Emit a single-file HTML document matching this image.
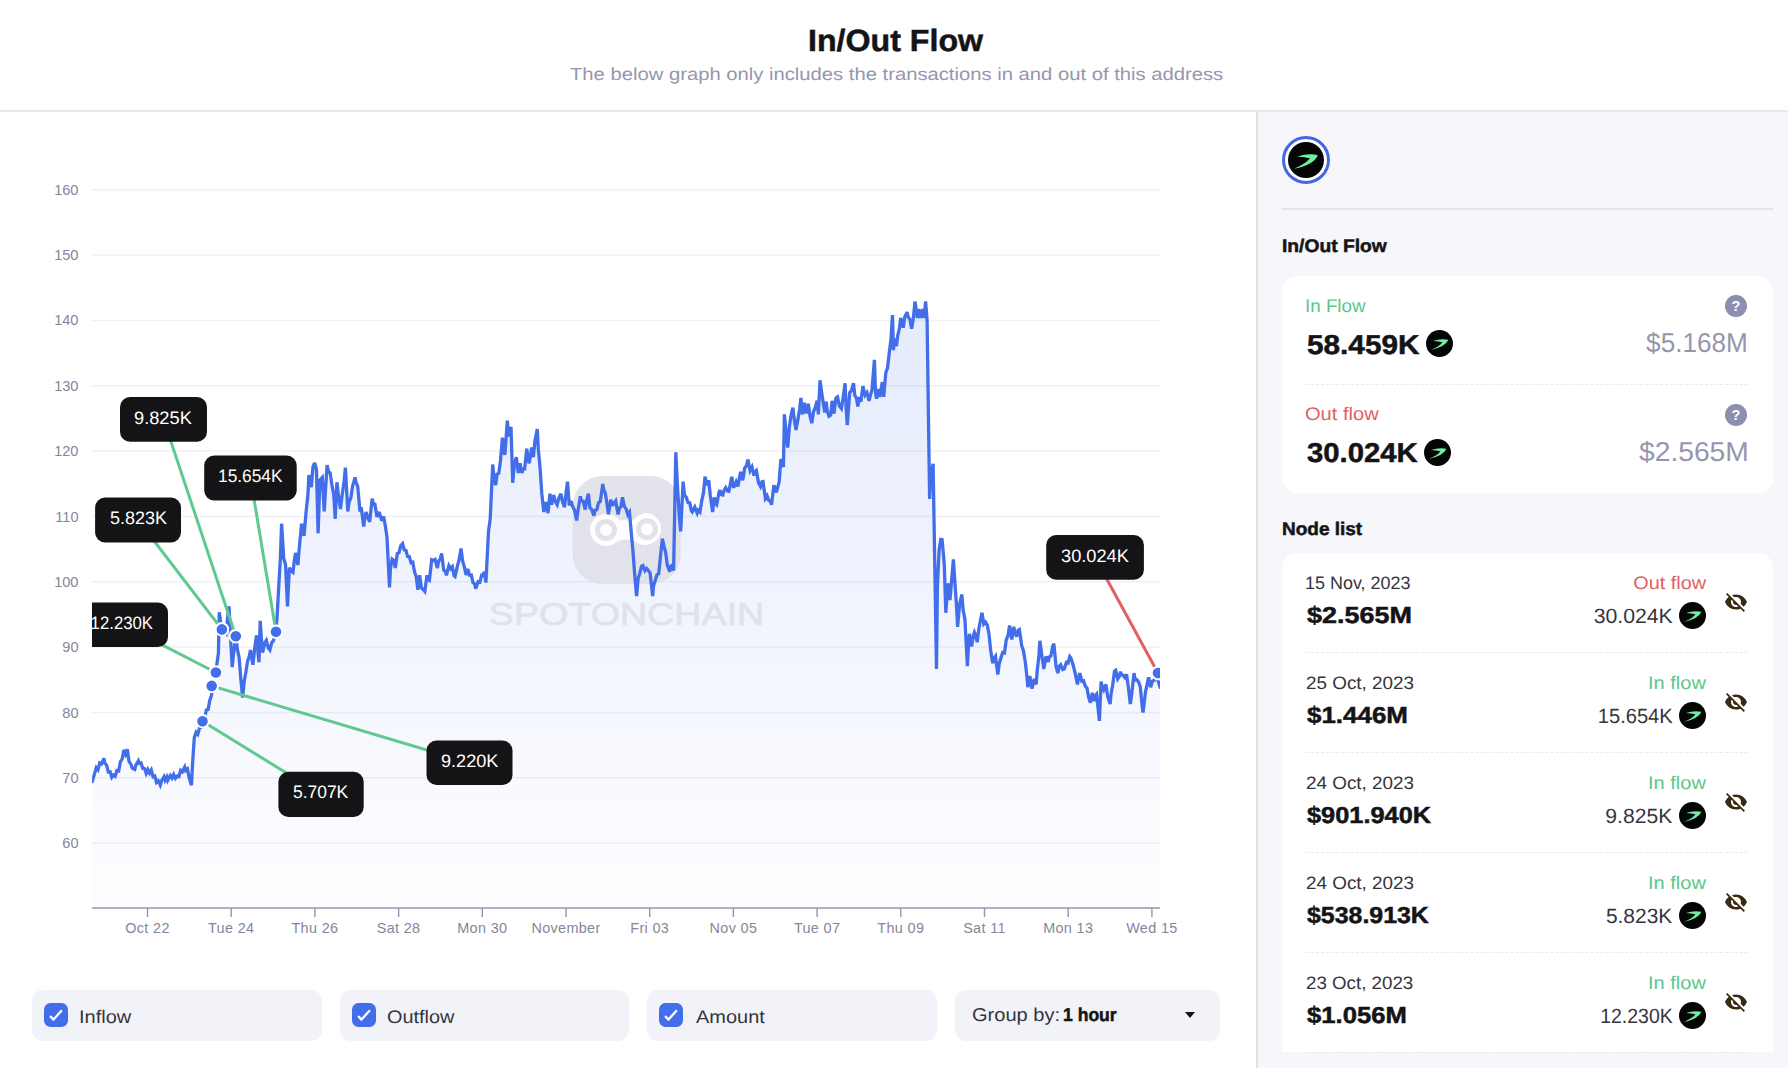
<!DOCTYPE html><html lang="en"><head><meta charset="utf-8"><title>In/Out Flow</title><style>
*{box-sizing:border-box}
html,body{margin:0;padding:0}
body{width:1788px;height:1068px;overflow:hidden;background:#fff;position:relative;font-family:"Liberation Sans",sans-serif}
.t{position:absolute;white-space:nowrap;line-height:1;display:block;text-rendering:geometricPrecision}
.chart{position:absolute;left:0;top:0}
.clipl{position:absolute;left:0;top:0;width:1788px;height:1068px;clip-path:inset(0 0 0 92px)}
.ax{font-family:"Liberation Sans",sans-serif;font-size:14.4px;letter-spacing:0.35px;fill:#85869c}
.ay{font-family:"Liberation Sans",sans-serif;font-size:14.6px;fill:#85869c}
.hdr{position:absolute;left:0;top:109.600px;width:1788px;height:2px;background:#e9e9ed}
.panel{position:absolute;left:1256px;top:111.500px;width:532px;height:957px;background:#f6f6fb;border-left:2px solid #dfdfe4}
.card{position:absolute;left:1281.500px;width:491.200px;background:#fff;border-radius:15px}
.dash{position:absolute;left:1306px;width:442px;height:0;border-top:1.500px dashed #e9e9ee}
.hr{position:absolute;left:1282px;top:207.800px;width:490.500px;height:2px;background:#e3e3e8}
.tok,.eye{position:absolute}
.help{position:absolute;width:21.800px;height:21.800px;border-radius:50%;background:#8d8eb0;color:#fff;font-weight:700;font-size:14.5px;line-height:22px;text-align:center}
.ring{position:absolute;left:1282px;top:136px;width:48px;height:48px;border-radius:50%;border:3px solid #4565e2;background:#fff}
.ctl{position:absolute;top:990.200px;height:50.500px;background:#f2f3f8;border-radius:11px}
.cb{position:absolute;width:24px;height:24px;border-radius:6.500px;background:#436eea}
.cb svg{display:block}
.caret{position:absolute;left:1184.500px;top:1012px;width:0;height:0;border-left:5.500px solid transparent;border-right:5.500px solid transparent;border-top:6px solid #141416}
</style></head><body>
<div class="hdr"></div>
<svg class="chart" width="1256" height="1068" viewBox="0 0 1256 1068">
<defs>
<linearGradient id="area" gradientUnits="userSpaceOnUse" x1="0" y1="298" x2="0" y2="908"><stop offset="0" stop-color="#436eea" stop-opacity="0.14"/><stop offset="1" stop-color="#436eea" stop-opacity="0.01"/></linearGradient>
<clipPath id="plot"><rect x="92" y="150" width="1068" height="760"/></clipPath></defs>
<line x1="92" x2="1160" y1="189.7" y2="189.7" stroke="#f0f0f5" stroke-width="1.5"/>
<line x1="92" x2="1160" y1="255.0" y2="255.0" stroke="#f0f0f5" stroke-width="1.5"/>
<line x1="92" x2="1160" y1="320.4" y2="320.4" stroke="#f0f0f5" stroke-width="1.5"/>
<line x1="92" x2="1160" y1="385.8" y2="385.8" stroke="#f0f0f5" stroke-width="1.5"/>
<line x1="92" x2="1160" y1="451.1" y2="451.1" stroke="#f0f0f5" stroke-width="1.5"/>
<line x1="92" x2="1160" y1="516.5" y2="516.5" stroke="#f0f0f5" stroke-width="1.5"/>
<line x1="92" x2="1160" y1="581.8" y2="581.8" stroke="#f0f0f5" stroke-width="1.5"/>
<line x1="92" x2="1160" y1="647.1" y2="647.1" stroke="#f0f0f5" stroke-width="1.5"/>
<line x1="92" x2="1160" y1="712.5" y2="712.5" stroke="#f0f0f5" stroke-width="1.5"/>
<line x1="92" x2="1160" y1="777.8" y2="777.8" stroke="#f0f0f5" stroke-width="1.5"/>
<line x1="92" x2="1160" y1="843.2" y2="843.2" stroke="#f0f0f5" stroke-width="1.5"/>
<g clip-path="url(#plot)"><path d="M92.2,781.6 L94.6,773.6 L96.3,767.7 L98.0,769.7 L99.7,763.0 L101.5,764.0 L103.9,758.4 L104.9,763.3 L106.6,765.0 L108.3,771.9 L110.1,771.7 L111.8,777.3 L113.5,775.0 L115.2,776.3 L116.9,770.5 L118.7,771.0 L120.4,761.6 L122.1,759.2 L123.8,750.0 L125.5,754.1 L127.3,749.2 L129.0,761.3 L130.7,763.9 L132.4,768.2 L134.8,769.4 L135.9,765.1 L138.4,760.9 L139.3,763.3 L141.0,762.9 L142.7,768.3 L144.5,768.5 L146.2,773.4 L147.9,769.5 L149.6,773.1 L151.3,770.1 L153.1,776.8 L154.8,776.1 L156.5,782.4 L158.2,780.8 L160.3,785.2 L161.7,780.5 L164.0,776.7 L165.1,780.2 L166.8,777.0 L167.7,780.3 L170.3,775.5 L172.0,778.1 L173.7,774.5 L175.4,778.4 L177.1,776.2 L178.9,776.7 L180.6,770.4 L182.3,771.8 L184.7,767.0 L185.7,770.6 L187.5,769.0 L189.2,777.8 L191.5,785.2 L192.6,763.0 L194.3,737.5 L196.1,732.2 L197.8,734.2 L199.5,728.1 L201.2,727.3 L202.9,718.5 L204.7,717.3 L206.4,709.9 L208.1,709.6 L209.8,700.3 L211.5,695.5 L213.3,679.3 L215.0,677.8 L216.7,665.4 L218.4,653.3 L219.3,612.3 L221.9,630.6 L223.6,629.5 L226.1,633.0 L227.0,623.3 L229.0,606.3 L230.5,636.2 L232.2,667.1 L233.9,651.1 L235.8,636.2 L237.3,648.9 L239.1,657.5 L240.8,678.3 L242.6,697.6 L244.2,681.7 L245.9,671.8 L247.7,660.6 L249.4,656.1 L250.4,650.1 L252.9,664.7 L254.5,649.7 L256.5,635.5 L258.0,652.8 L259.0,662.3 L260.2,620.9 L261.4,638.5 L262.6,652.5 L264.9,642.7 L266.3,640.4 L268.3,648.0 L269.9,650.1 L271.7,642.5 L273.5,640.6 L275.2,632.4 L276.9,619.6 L278.6,589.2 L280.3,559.6 L281.6,523.7 L283.8,559.1 L285.5,564.1 L287.5,606.4 L289.4,567.5 L290.7,570.7 L293.0,572.4 L294.1,562.3 L295.5,552.9 L297.9,565.0 L299.3,547.7 L301.6,523.7 L302.7,530.8 L304.0,535.8 L306.1,511.7 L307.9,495.3 L308.9,475.0 L311.3,487.1 L313.0,466.7 L314.7,462.8 L316.5,469.9 L318.1,533.4 L319.9,480.2 L322.3,477.4 L324.2,511.5 L325.1,496.1 L327.1,465.2 L328.5,471.6 L330.2,473.1 L331.9,485.0 L333.7,494.4 L335.2,518.8 L336.9,482.3 L338.8,498.8 L340.5,509.0 L342.3,493.9 L344.0,482.0 L345.4,467.7 L347.8,511.5 L349.1,502.1 L350.9,497.6 L352.6,486.1 L355.1,477.4 L356.0,482.4 L357.7,486.4 L360.0,511.5 L361.2,507.1 L363.7,526.6 L364.6,518.7 L366.1,512.0 L368.1,518.7 L369.7,521.7 L372.2,498.6 L373.2,503.5 L374.9,504.2 L377.0,516.9 L378.4,512.9 L379.5,513.2 L381.8,520.8 L383.5,516.3 L385.3,525.6 L387.0,537.3 L389.5,587.5 L390.4,568.9 L392.1,559.2 L393.9,560.7 L395.3,568.0 L397.3,553.6 L399.0,552.7 L400.7,545.9 L402.6,543.7 L404.2,549.9 L405.9,550.4 L407.6,556.5 L409.3,556.6 L411.1,562.9 L412.8,562.3 L414.5,571.8 L416.2,576.5 L417.9,589.9 L419.7,575.3 L421.4,587.8 L423.1,589.5 L424.8,591.4 L427.0,575.3 L428.3,579.4 L429.4,580.2 L431.7,559.8 L433.4,560.4 L435.1,559.5 L437.4,568.0 L438.6,561.3 L440.3,559.1 L441.6,553.4 L443.7,569.9 L445.5,571.7 L446.4,575.3 L448.9,565.7 L450.6,568.7 L452.3,566.7 L454.1,575.8 L455.0,576.5 L457.5,565.6 L459.2,559.5 L461.0,548.5 L462.7,561.1 L464.4,567.1 L466.1,575.0 L467.8,568.9 L469.5,575.1 L471.3,575.0 L473.0,582.6 L474.7,583.9 L475.7,588.7 L478.1,581.7 L479.9,582.1 L481.6,575.2 L483.3,575.7 L484.2,571.7 L485.9,582.6 L488.5,531.3 L490.2,519.1 L492.7,464.5 L493.6,473.3 L495.6,485.2 L497.1,474.2 L498.8,473.3 L500.5,460.6 L502.4,437.7 L503.9,450.5 L504.9,454.8 L507.3,420.7 L509.0,436.5 L511.0,426.8 L512.7,482.8 L514.3,465.2 L516.3,457.2 L518.3,473.0 L520.0,463.3 L521.9,473.0 L522.9,469.1 L524.6,469.0 L526.8,448.7 L528.0,458.4 L529.2,463.3 L531.7,447.5 L533.4,457.2 L534.9,441.1 L537.3,429.2 L538.3,449.2 L540.1,468.3 L541.8,493.7 L543.8,512.0 L545.2,504.5 L546.3,502.3 L548.0,513.2 L549.9,493.7 L551.6,504.7 L553.6,495.0 L555.5,501.9 L557.2,504.7 L559.0,497.5 L560.9,493.7 L562.4,501.3 L564.5,507.1 L565.9,494.2 L567.5,481.6 L569.3,505.5 L571.0,501.0 L572.7,506.6 L574.5,510.1 L576.7,520.5 L577.9,511.0 L580.4,496.2 L581.3,500.7 L583.1,501.2 L585.2,509.6 L586.5,501.4 L588.4,493.7 L589.9,508.0 L591.7,509.4 L593.8,515.7 L595.1,510.5 L596.8,509.7 L598.5,502.9 L600.3,501.3 L602.8,484.0 L603.7,489.5 L605.4,493.4 L607.1,504.5 L608.4,514.4 L610.8,499.8 L612.3,504.8 L613.2,504.7 L615.7,501.0 L618.1,514.4 L619.2,508.8 L620.9,506.7 L622.5,497.4 L624.3,506.4 L626.1,508.9 L627.8,514.7 L629.5,512.2 L631.2,532.1 L632.9,550.5 L634.7,574.6 L636.6,596.0 L638.1,578.5 L639.8,573.4 L641.5,566.4 L642.9,565.6 L645.0,570.7 L646.7,568.5 L648.4,570.4 L650.1,573.0 L652.7,596.0 L653.6,585.7 L655.3,580.3 L657.0,574.8 L658.7,573.6 L660.5,556.2 L662.4,538.8 L663.9,545.9 L665.6,552.0 L667.3,565.0 L669.7,571.7 L670.8,566.2 L671.7,565.6 L673.6,570.4 L675.8,452.3 L677.7,490.1 L679.4,517.8 L680.7,531.5 L683.1,481.6 L684.5,495.1 L686.3,497.2 L688.0,502.5 L689.7,502.8 L691.4,510.8 L692.3,512.0 L694.8,507.1 L697.2,513.2 L698.3,510.3 L700.0,512.0 L701.7,501.0 L703.5,492.8 L705.0,476.7 L707.0,485.2 L708.7,480.3 L710.3,495.2 L712.6,512.0 L714.3,497.4 L715.5,503.4 L716.7,504.7 L718.9,492.7 L719.9,490.1 L721.3,494.7 L722.8,495.0 L724.1,490.4 L725.7,487.7 L727.5,491.0 L728.9,491.3 L731.8,476.7 L732.7,484.2 L733.7,487.7 L736.1,481.7 L737.9,486.5 L739.6,476.7 L740.6,471.8 L742.8,480.3 L744.7,468.0 L746.5,465.7 L747.9,459.7 L750.1,470.6 L752.0,467.0 L754.0,475.5 L755.1,472.1 L756.4,470.6 L758.5,482.6 L760.5,486.4 L761.9,481.9 L763.0,481.6 L765.4,498.5 L767.1,495.8 L768.8,500.5 L770.5,501.3 L771.5,504.7 L773.9,485.2 L776.4,492.5 L777.4,488.1 L779.1,482.4 L780.9,459.1 L783.4,467.0 L784.4,414.4 L786.0,431.4 L787.7,447.5 L789.5,425.7 L791.2,414.8 L792.9,407.6 L794.6,421.8 L796.0,430.0 L798.1,418.4 L799.8,408.2 L800.9,397.9 L802.5,414.4 L804.4,402.7 L806.4,413.5 L808.3,403.7 L810.1,416.5 L811.8,423.2 L813.5,411.6 L815.3,407.5 L817.1,400.8 L818.4,414.4 L820.0,380.3 L822.1,395.5 L824.7,412.5 L826.2,401.8 L827.3,411.2 L829.0,416.1 L830.7,415.0 L832.1,400.8 L834.0,413.5 L835.9,398.1 L837.5,396.9 L839.3,405.9 L841.4,408.6 L842.8,399.9 L845.1,383.3 L846.2,408.8 L847.3,425.1 L849.7,392.7 L851.4,390.6 L853.5,383.3 L854.8,395.2 L856.5,398.3 L857.8,406.6 L859.4,396.9 L860.9,401.8 L862.9,386.2 L865.1,395.1 L866.9,392.6 L869.1,400.8 L870.3,395.7 L872.0,389.7 L874.4,359.9 L875.5,392.3 L876.5,398.8 L878.4,389.1 L879.8,396.9 L882.3,382.1 L883.7,396.9 L885.8,372.6 L887.5,368.1 L889.2,353.5 L890.9,340.0 L892.5,315.1 L893.4,350.1 L894.8,338.4 L896.4,346.2 L897.8,335.2 L899.5,327.8 L900.7,318.0 L903.2,327.7 L904.7,317.3 L907.1,312.1 L908.1,316.8 L909.9,319.3 L911.6,328.6 L913.3,318.7 L915.0,301.6 L917.4,318.0 L918.8,309.2 L920.7,318.0 L922.7,309.2 L924.2,318.0 L925.6,301.4 L927.1,320.3 L929.6,499.0 L930.5,482.1 L932.2,468.6 L933.1,463.9 L936.5,668.9 L937.4,585.6 L939.1,550.2 L940.8,539.5 L942.1,539.7 L944.3,564.7 L945.8,612.8 L947.8,583.3 L950.0,600.1 L951.1,586.6 L953.4,559.4 L954.6,578.2 L956.3,602.2 L957.6,626.8 L959.7,603.7 L961.8,594.5 L963.2,610.3 L964.9,618.9 L967.4,666.1 L968.3,648.8 L969.4,633.8 L971.6,646.5 L973.5,635.1 L974.4,632.4 L975.8,636.1 L977.2,642.2 L978.7,629.7 L980.4,620.9 L982.0,612.8 L983.8,624.0 L985.5,622.0 L987.3,625.1 L989.0,634.2 L990.7,650.4 L992.7,663.3 L994.1,658.3 L995.5,656.3 L997.8,674.6 L999.3,663.4 L1001.0,657.8 L1002.7,652.4 L1004.5,652.9 L1006.2,640.0 L1007.9,635.9 L1009.6,625.4 L1011.8,639.4 L1013.8,626.8 L1014.8,632.0 L1016.6,636.6 L1018.2,630.2 L1019.4,629.6 L1021.7,645.7 L1023.4,650.6 L1025.1,660.6 L1026.8,675.3 L1027.8,687.2 L1029.8,676.0 L1032.0,688.6 L1034.3,678.8 L1036.2,684.4 L1037.1,671.8 L1038.9,655.7 L1039.9,640.8 L1042.3,658.6 L1043.8,668.9 L1046.1,656.3 L1048.3,661.9 L1049.2,657.0 L1050.9,656.0 L1052.6,646.6 L1053.9,643.7 L1056.1,667.0 L1057.9,673.1 L1059.5,666.1 L1060.7,664.7 L1062.9,669.6 L1064.3,668.9 L1066.4,662.3 L1068.1,663.0 L1069.8,656.5 L1070.8,657.7 L1073.3,665.7 L1075.0,672.5 L1077.5,684.4 L1078.4,678.4 L1079.8,673.1 L1081.9,681.2 L1083.6,680.8 L1085.3,686.2 L1087.0,688.0 L1088.7,697.6 L1090.4,702.6 L1092.4,692.8 L1094.4,701.2 L1095.6,695.5 L1096.6,694.2 L1099.4,720.9 L1101.1,681.6 L1102.5,687.8 L1103.7,690.0 L1105.9,684.4 L1107.7,696.4 L1110.1,704.0 L1111.1,693.7 L1112.8,684.2 L1114.5,671.2 L1115.7,670.3 L1117.7,678.8 L1119.1,676.7 L1120.5,671.7 L1121.4,674.9 L1123.1,675.2 L1124.9,677.5 L1126.6,674.4 L1128.3,686.8 L1130.3,704.0 L1131.7,694.4 L1134.0,673.1 L1135.2,679.9 L1136.9,679.8 L1138.6,682.0 L1140.3,686.8 L1142.1,705.5 L1143.0,712.5 L1145.5,691.7 L1147.2,683.8 L1148.6,677.4 L1150.6,687.2 L1152.4,681.2 L1154.1,680.4 L1155.8,672.6 L1157.5,678.9 L1160.0,687.2 L1160,908 L92,908 Z" fill="url(#area)"/>
<g id="wm" opacity="0.96">
<rect x="572.7" y="476" width="108" height="108" rx="30" fill="#e1e2ea"/>
<path d="M606 514a16 16 0 1 0 9 29.2c3.5-2.4 7-3.6 11.500-3.6s8 1.200 11.500 3.600A16 16 0 1 0 647 513a16 16 0 0 0 -13.500 7.500 h-14A16 16 0 0 0 606 514z" fill="#ffffff"/>
<circle cx="606" cy="530" r="8.5" fill="none" stroke="#e1e2ea" stroke-width="5"/>
<circle cx="647" cy="529.2" r="8.5" fill="none" stroke="#e1e2ea" stroke-width="5"/>
<text x="488.8" y="625.2" font-family="Liberation Sans, sans-serif" font-size="30.7" fill="#e0e1e9" stroke="#e0e1e9" stroke-width="0.6" textLength="275.5" lengthAdjust="spacingAndGlyphs">SPOTONCHAIN</text>
</g>
<path d="M92.2,781.6 L94.6,773.6 L96.3,767.7 L98.0,769.7 L99.7,763.0 L101.5,764.0 L103.9,758.4 L104.9,763.3 L106.6,765.0 L108.3,771.9 L110.1,771.7 L111.8,777.3 L113.5,775.0 L115.2,776.3 L116.9,770.5 L118.7,771.0 L120.4,761.6 L122.1,759.2 L123.8,750.0 L125.5,754.1 L127.3,749.2 L129.0,761.3 L130.7,763.9 L132.4,768.2 L134.8,769.4 L135.9,765.1 L138.4,760.9 L139.3,763.3 L141.0,762.9 L142.7,768.3 L144.5,768.5 L146.2,773.4 L147.9,769.5 L149.6,773.1 L151.3,770.1 L153.1,776.8 L154.8,776.1 L156.5,782.4 L158.2,780.8 L160.3,785.2 L161.7,780.5 L164.0,776.7 L165.1,780.2 L166.8,777.0 L167.7,780.3 L170.3,775.5 L172.0,778.1 L173.7,774.5 L175.4,778.4 L177.1,776.2 L178.9,776.7 L180.6,770.4 L182.3,771.8 L184.7,767.0 L185.7,770.6 L187.5,769.0 L189.2,777.8 L191.5,785.2 L192.6,763.0 L194.3,737.5 L196.1,732.2 L197.8,734.2 L199.5,728.1 L201.2,727.3 L202.9,718.5 L204.7,717.3 L206.4,709.9 L208.1,709.6 L209.8,700.3 L211.5,695.5 L213.3,679.3 L215.0,677.8 L216.7,665.4 L218.4,653.3 L219.3,612.3 L221.9,630.6 L223.6,629.5 L226.1,633.0 L227.0,623.3 L229.0,606.3 L230.5,636.2 L232.2,667.1 L233.9,651.1 L235.8,636.2 L237.3,648.9 L239.1,657.5 L240.8,678.3 L242.6,697.6 L244.2,681.7 L245.9,671.8 L247.7,660.6 L249.4,656.1 L250.4,650.1 L252.9,664.7 L254.5,649.7 L256.5,635.5 L258.0,652.8 L259.0,662.3 L260.2,620.9 L261.4,638.5 L262.6,652.5 L264.9,642.7 L266.3,640.4 L268.3,648.0 L269.9,650.1 L271.7,642.5 L273.5,640.6 L275.2,632.4 L276.9,619.6 L278.6,589.2 L280.3,559.6 L281.6,523.7 L283.8,559.1 L285.5,564.1 L287.5,606.4 L289.4,567.5 L290.7,570.7 L293.0,572.4 L294.1,562.3 L295.5,552.9 L297.9,565.0 L299.3,547.7 L301.6,523.7 L302.7,530.8 L304.0,535.8 L306.1,511.7 L307.9,495.3 L308.9,475.0 L311.3,487.1 L313.0,466.7 L314.7,462.8 L316.5,469.9 L318.1,533.4 L319.9,480.2 L322.3,477.4 L324.2,511.5 L325.1,496.1 L327.1,465.2 L328.5,471.6 L330.2,473.1 L331.9,485.0 L333.7,494.4 L335.2,518.8 L336.9,482.3 L338.8,498.8 L340.5,509.0 L342.3,493.9 L344.0,482.0 L345.4,467.7 L347.8,511.5 L349.1,502.1 L350.9,497.6 L352.6,486.1 L355.1,477.4 L356.0,482.4 L357.7,486.4 L360.0,511.5 L361.2,507.1 L363.7,526.6 L364.6,518.7 L366.1,512.0 L368.1,518.7 L369.7,521.7 L372.2,498.6 L373.2,503.5 L374.9,504.2 L377.0,516.9 L378.4,512.9 L379.5,513.2 L381.8,520.8 L383.5,516.3 L385.3,525.6 L387.0,537.3 L389.5,587.5 L390.4,568.9 L392.1,559.2 L393.9,560.7 L395.3,568.0 L397.3,553.6 L399.0,552.7 L400.7,545.9 L402.6,543.7 L404.2,549.9 L405.9,550.4 L407.6,556.5 L409.3,556.6 L411.1,562.9 L412.8,562.3 L414.5,571.8 L416.2,576.5 L417.9,589.9 L419.7,575.3 L421.4,587.8 L423.1,589.5 L424.8,591.4 L427.0,575.3 L428.3,579.4 L429.4,580.2 L431.7,559.8 L433.4,560.4 L435.1,559.5 L437.4,568.0 L438.6,561.3 L440.3,559.1 L441.6,553.4 L443.7,569.9 L445.5,571.7 L446.4,575.3 L448.9,565.7 L450.6,568.7 L452.3,566.7 L454.1,575.8 L455.0,576.5 L457.5,565.6 L459.2,559.5 L461.0,548.5 L462.7,561.1 L464.4,567.1 L466.1,575.0 L467.8,568.9 L469.5,575.1 L471.3,575.0 L473.0,582.6 L474.7,583.9 L475.7,588.7 L478.1,581.7 L479.9,582.1 L481.6,575.2 L483.3,575.7 L484.2,571.7 L485.9,582.6 L488.5,531.3 L490.2,519.1 L492.7,464.5 L493.6,473.3 L495.6,485.2 L497.1,474.2 L498.8,473.3 L500.5,460.6 L502.4,437.7 L503.9,450.5 L504.9,454.8 L507.3,420.7 L509.0,436.5 L511.0,426.8 L512.7,482.8 L514.3,465.2 L516.3,457.2 L518.3,473.0 L520.0,463.3 L521.9,473.0 L522.9,469.1 L524.6,469.0 L526.8,448.7 L528.0,458.4 L529.2,463.3 L531.7,447.5 L533.4,457.2 L534.9,441.1 L537.3,429.2 L538.3,449.2 L540.1,468.3 L541.8,493.7 L543.8,512.0 L545.2,504.5 L546.3,502.3 L548.0,513.2 L549.9,493.7 L551.6,504.7 L553.6,495.0 L555.5,501.9 L557.2,504.7 L559.0,497.5 L560.9,493.7 L562.4,501.3 L564.5,507.1 L565.9,494.2 L567.5,481.6 L569.3,505.5 L571.0,501.0 L572.7,506.6 L574.5,510.1 L576.7,520.5 L577.9,511.0 L580.4,496.2 L581.3,500.7 L583.1,501.2 L585.2,509.6 L586.5,501.4 L588.4,493.7 L589.9,508.0 L591.7,509.4 L593.8,515.7 L595.1,510.5 L596.8,509.7 L598.5,502.9 L600.3,501.3 L602.8,484.0 L603.7,489.5 L605.4,493.4 L607.1,504.5 L608.4,514.4 L610.8,499.8 L612.3,504.8 L613.2,504.7 L615.7,501.0 L618.1,514.4 L619.2,508.8 L620.9,506.7 L622.5,497.4 L624.3,506.4 L626.1,508.9 L627.8,514.7 L629.5,512.2 L631.2,532.1 L632.9,550.5 L634.7,574.6 L636.6,596.0 L638.1,578.5 L639.8,573.4 L641.5,566.4 L642.9,565.6 L645.0,570.7 L646.7,568.5 L648.4,570.4 L650.1,573.0 L652.7,596.0 L653.6,585.7 L655.3,580.3 L657.0,574.8 L658.7,573.6 L660.5,556.2 L662.4,538.8 L663.9,545.9 L665.6,552.0 L667.3,565.0 L669.7,571.7 L670.8,566.2 L671.7,565.6 L673.6,570.4 L675.8,452.3 L677.7,490.1 L679.4,517.8 L680.7,531.5 L683.1,481.6 L684.5,495.1 L686.3,497.2 L688.0,502.5 L689.7,502.8 L691.4,510.8 L692.3,512.0 L694.8,507.1 L697.2,513.2 L698.3,510.3 L700.0,512.0 L701.7,501.0 L703.5,492.8 L705.0,476.7 L707.0,485.2 L708.7,480.3 L710.3,495.2 L712.6,512.0 L714.3,497.4 L715.5,503.4 L716.7,504.7 L718.9,492.7 L719.9,490.1 L721.3,494.7 L722.8,495.0 L724.1,490.4 L725.7,487.7 L727.5,491.0 L728.9,491.3 L731.8,476.7 L732.7,484.2 L733.7,487.7 L736.1,481.7 L737.9,486.5 L739.6,476.7 L740.6,471.8 L742.8,480.3 L744.7,468.0 L746.5,465.7 L747.9,459.7 L750.1,470.6 L752.0,467.0 L754.0,475.5 L755.1,472.1 L756.4,470.6 L758.5,482.6 L760.5,486.4 L761.9,481.9 L763.0,481.6 L765.4,498.5 L767.1,495.8 L768.8,500.5 L770.5,501.3 L771.5,504.7 L773.9,485.2 L776.4,492.5 L777.4,488.1 L779.1,482.4 L780.9,459.1 L783.4,467.0 L784.4,414.4 L786.0,431.4 L787.7,447.5 L789.5,425.7 L791.2,414.8 L792.9,407.6 L794.6,421.8 L796.0,430.0 L798.1,418.4 L799.8,408.2 L800.9,397.9 L802.5,414.4 L804.4,402.7 L806.4,413.5 L808.3,403.7 L810.1,416.5 L811.8,423.2 L813.5,411.6 L815.3,407.5 L817.1,400.8 L818.4,414.4 L820.0,380.3 L822.1,395.5 L824.7,412.5 L826.2,401.8 L827.3,411.2 L829.0,416.1 L830.7,415.0 L832.1,400.8 L834.0,413.5 L835.9,398.1 L837.5,396.9 L839.3,405.9 L841.4,408.6 L842.8,399.9 L845.1,383.3 L846.2,408.8 L847.3,425.1 L849.7,392.7 L851.4,390.6 L853.5,383.3 L854.8,395.2 L856.5,398.3 L857.8,406.6 L859.4,396.9 L860.9,401.8 L862.9,386.2 L865.1,395.1 L866.9,392.6 L869.1,400.8 L870.3,395.7 L872.0,389.7 L874.4,359.9 L875.5,392.3 L876.5,398.8 L878.4,389.1 L879.8,396.9 L882.3,382.1 L883.7,396.9 L885.8,372.6 L887.5,368.1 L889.2,353.5 L890.9,340.0 L892.5,315.1 L893.4,350.1 L894.8,338.4 L896.4,346.2 L897.8,335.2 L899.5,327.8 L900.7,318.0 L903.2,327.7 L904.7,317.3 L907.1,312.1 L908.1,316.8 L909.9,319.3 L911.6,328.6 L913.3,318.7 L915.0,301.6 L917.4,318.0 L918.8,309.2 L920.7,318.0 L922.7,309.2 L924.2,318.0 L925.6,301.4 L927.1,320.3 L929.6,499.0 L930.5,482.1 L932.2,468.6 L933.1,463.9 L936.5,668.9 L937.4,585.6 L939.1,550.2 L940.8,539.5 L942.1,539.7 L944.3,564.7 L945.8,612.8 L947.8,583.3 L950.0,600.1 L951.1,586.6 L953.4,559.4 L954.6,578.2 L956.3,602.2 L957.6,626.8 L959.7,603.7 L961.8,594.5 L963.2,610.3 L964.9,618.9 L967.4,666.1 L968.3,648.8 L969.4,633.8 L971.6,646.5 L973.5,635.1 L974.4,632.4 L975.8,636.1 L977.2,642.2 L978.7,629.7 L980.4,620.9 L982.0,612.8 L983.8,624.0 L985.5,622.0 L987.3,625.1 L989.0,634.2 L990.7,650.4 L992.7,663.3 L994.1,658.3 L995.5,656.3 L997.8,674.6 L999.3,663.4 L1001.0,657.8 L1002.7,652.4 L1004.5,652.9 L1006.2,640.0 L1007.9,635.9 L1009.6,625.4 L1011.8,639.4 L1013.8,626.8 L1014.8,632.0 L1016.6,636.6 L1018.2,630.2 L1019.4,629.6 L1021.7,645.7 L1023.4,650.6 L1025.1,660.6 L1026.8,675.3 L1027.8,687.2 L1029.8,676.0 L1032.0,688.6 L1034.3,678.8 L1036.2,684.4 L1037.1,671.8 L1038.9,655.7 L1039.9,640.8 L1042.3,658.6 L1043.8,668.9 L1046.1,656.3 L1048.3,661.9 L1049.2,657.0 L1050.9,656.0 L1052.6,646.6 L1053.9,643.7 L1056.1,667.0 L1057.9,673.1 L1059.5,666.1 L1060.7,664.7 L1062.9,669.6 L1064.3,668.9 L1066.4,662.3 L1068.1,663.0 L1069.8,656.5 L1070.8,657.7 L1073.3,665.7 L1075.0,672.5 L1077.5,684.4 L1078.4,678.4 L1079.8,673.1 L1081.9,681.2 L1083.6,680.8 L1085.3,686.2 L1087.0,688.0 L1088.7,697.6 L1090.4,702.6 L1092.4,692.8 L1094.4,701.2 L1095.6,695.5 L1096.6,694.2 L1099.4,720.9 L1101.1,681.6 L1102.5,687.8 L1103.7,690.0 L1105.9,684.4 L1107.7,696.4 L1110.1,704.0 L1111.1,693.7 L1112.8,684.2 L1114.5,671.2 L1115.7,670.3 L1117.7,678.8 L1119.1,676.7 L1120.5,671.7 L1121.4,674.9 L1123.1,675.2 L1124.9,677.5 L1126.6,674.4 L1128.3,686.8 L1130.3,704.0 L1131.7,694.4 L1134.0,673.1 L1135.2,679.9 L1136.9,679.8 L1138.6,682.0 L1140.3,686.8 L1142.1,705.5 L1143.0,712.5 L1145.5,691.7 L1147.2,683.8 L1148.6,677.4 L1150.6,687.2 L1152.4,681.2 L1154.1,680.4 L1155.8,672.6 L1157.5,678.9 L1160.0,687.2" fill="none" stroke="#436eea" stroke-width="3.3" stroke-linejoin="miter" stroke-miterlimit="3" stroke-linecap="round"/>
<line x1="163.5" y1="419.2" x2="235.8" y2="636.2" stroke="#5fc98f" stroke-width="3"/>
<line x1="250.5" y1="478" x2="276" y2="631.8" stroke="#5fc98f" stroke-width="3"/>
<line x1="138" y1="520" x2="221.9" y2="629.4" stroke="#5fc98f" stroke-width="3"/>
<line x1="122.5" y1="624.7" x2="215.9" y2="672.5" stroke="#5fc98f" stroke-width="3"/>
<line x1="469.5" y1="762.8" x2="211.7" y2="685.9" stroke="#5fc98f" stroke-width="3"/>
<line x1="321" y1="794.3" x2="202.5" y2="721.2" stroke="#5fc98f" stroke-width="3"/>
<line x1="1094.9" y1="557.3" x2="1158" y2="673" stroke="#e25f62" stroke-width="3"/>
<circle cx="202.5" cy="721.2" r="6.3" fill="#436eea" stroke="#ffffff" stroke-width="2"/>
<circle cx="211.7" cy="685.9" r="6.3" fill="#436eea" stroke="#ffffff" stroke-width="2"/>
<circle cx="215.9" cy="672.5" r="6.3" fill="#436eea" stroke="#ffffff" stroke-width="2"/>
<circle cx="221.9" cy="629.4" r="6.3" fill="#436eea" stroke="#ffffff" stroke-width="2"/>
<circle cx="235.8" cy="636.2" r="6.3" fill="#436eea" stroke="#ffffff" stroke-width="2"/>
<circle cx="276" cy="631.8" r="6.3" fill="#436eea" stroke="#ffffff" stroke-width="2"/>
<circle cx="1158" cy="673" r="6.3" fill="#436eea" stroke="#ffffff" stroke-width="2"/>
<rect x="120" y="397.1" width="87.0" height="44.7" rx="10" fill="#141416"/>
<rect x="204.2" y="455.5" width="92.5" height="45.0" rx="10" fill="#141416"/>
<rect x="95.1" y="497.6" width="85.9" height="44.8" rx="10" fill="#141416"/>
<rect x="77" y="602.5" width="91.0" height="44.5" rx="10" fill="#141416"/>
<rect x="426.5" y="740.5" width="86.0" height="44.5" rx="10" fill="#141416"/>
<rect x="278.4" y="771.8" width="85.3" height="45.1" rx="10" fill="#141416"/>
<rect x="1046.2" y="535" width="97.7" height="44.7" rx="10" fill="#141416"/>
</g>
<line x1="92" x2="1160" y1="908" y2="908" stroke="#9596ac" stroke-width="1.4"/>
<line x1="147.5" x2="147.5" y1="908" y2="917" stroke="#9596ac" stroke-width="1.4"/>
<text x="147.5" y="932.6" text-anchor="middle" class="ax">Oct 22</text>
<line x1="231.2" x2="231.2" y1="908" y2="917" stroke="#9596ac" stroke-width="1.4"/>
<text x="231.2" y="932.6" text-anchor="middle" class="ax">Tue 24</text>
<line x1="314.9" x2="314.9" y1="908" y2="917" stroke="#9596ac" stroke-width="1.4"/>
<text x="314.9" y="932.6" text-anchor="middle" class="ax">Thu 26</text>
<line x1="398.6" x2="398.6" y1="908" y2="917" stroke="#9596ac" stroke-width="1.4"/>
<text x="398.6" y="932.6" text-anchor="middle" class="ax">Sat 28</text>
<line x1="482.3" x2="482.3" y1="908" y2="917" stroke="#9596ac" stroke-width="1.4"/>
<text x="482.3" y="932.6" text-anchor="middle" class="ax">Mon 30</text>
<line x1="566" x2="566" y1="908" y2="917" stroke="#9596ac" stroke-width="1.4"/>
<text x="566" y="932.6" text-anchor="middle" class="ax">November</text>
<line x1="649.7" x2="649.7" y1="908" y2="917" stroke="#9596ac" stroke-width="1.4"/>
<text x="649.7" y="932.6" text-anchor="middle" class="ax">Fri 03</text>
<line x1="733.4" x2="733.4" y1="908" y2="917" stroke="#9596ac" stroke-width="1.4"/>
<text x="733.4" y="932.6" text-anchor="middle" class="ax">Nov 05</text>
<line x1="817.1" x2="817.1" y1="908" y2="917" stroke="#9596ac" stroke-width="1.4"/>
<text x="817.1" y="932.6" text-anchor="middle" class="ax">Tue 07</text>
<line x1="900.8" x2="900.8" y1="908" y2="917" stroke="#9596ac" stroke-width="1.4"/>
<text x="900.8" y="932.6" text-anchor="middle" class="ax">Thu 09</text>
<line x1="984.5" x2="984.5" y1="908" y2="917" stroke="#9596ac" stroke-width="1.4"/>
<text x="984.5" y="932.6" text-anchor="middle" class="ax">Sat 11</text>
<line x1="1068.2" x2="1068.2" y1="908" y2="917" stroke="#9596ac" stroke-width="1.4"/>
<text x="1068.2" y="932.6" text-anchor="middle" class="ax">Mon 13</text>
<line x1="1151.9" x2="1151.9" y1="908" y2="917" stroke="#9596ac" stroke-width="1.4"/>
<text x="1151.9" y="932.6" text-anchor="middle" class="ax">Wed 15</text>
<text x="78.5" y="194.7" text-anchor="end" class="ay">160</text>
<text x="78.5" y="260.0" text-anchor="end" class="ay">150</text>
<text x="78.5" y="325.4" text-anchor="end" class="ay">140</text>
<text x="78.5" y="390.8" text-anchor="end" class="ay">130</text>
<text x="78.5" y="456.1" text-anchor="end" class="ay">120</text>
<text x="78.5" y="521.5" text-anchor="end" class="ay">110</text>
<text x="78.5" y="586.8" text-anchor="end" class="ay">100</text>
<text x="78.5" y="652.1" text-anchor="end" class="ay">90</text>
<text x="78.5" y="717.5" text-anchor="end" class="ay">80</text>
<text x="78.5" y="782.8" text-anchor="end" class="ay">70</text>
<text x="78.5" y="848.2" text-anchor="end" class="ay">60</text>
</svg>
<div class="ctl" style="left:32.2px;width:289.6px"></div>
<div class="ctl" style="left:340px;width:288.8px"></div>
<div class="ctl" style="left:647.2px;width:289.5px"></div>
<div class="ctl" style="left:955px;width:264.8px"></div>
<div class="cb" style="left:44px;top:1002.8px"><svg width="24" height="24" viewBox="0 0 24 24"><path d="M6.800 13.700l2.700 2.900 7.700-8.700" fill="none" stroke="#fff" stroke-width="2.300" stroke-linecap="round" stroke-linejoin="round"/></svg></div>
<div class="cb" style="left:351.8px;top:1002.8px"><svg width="24" height="24" viewBox="0 0 24 24"><path d="M6.800 13.700l2.700 2.900 7.700-8.700" fill="none" stroke="#fff" stroke-width="2.300" stroke-linecap="round" stroke-linejoin="round"/></svg></div>
<div class="cb" style="left:659px;top:1002.8px"><svg width="24" height="24" viewBox="0 0 24 24"><path d="M6.800 13.700l2.700 2.900 7.700-8.700" fill="none" stroke="#fff" stroke-width="2.300" stroke-linecap="round" stroke-linejoin="round"/></svg></div>
<div class="caret"></div>
<div class="panel"></div>
<div class="ring"></div>
<svg class="tok" style="left:1288.0px;top:142.0px;width:36px;height:36px" viewBox="-1 -1 2 2"><circle r="1" fill="#050505"/><path d="M-0.48,-0.19 Q0.15,-0.40 0.66,-0.27 Q0.46,0.24 -0.66,0.49 Q0.02,0.18 0.22,-0.10 Q-0.05,-0.15 -0.48,-0.19Z" fill="#6ff0a5"/></svg>
<div class="hr"></div>
<div class="card" style="top:276px;height:217px"></div>
<div class="dash" style="top:383.700px"></div>
<div class="help" style="left:1725.0px;top:295.0px">?</div>
<div class="help" style="left:1725.0px;top:403.9px">?</div>
<svg class="tok" style="left:1426.0px;top:329.8px;width:27px;height:27px" viewBox="-1 -1 2 2"><circle r="1" fill="#050505"/><path d="M-0.48,-0.19 Q0.15,-0.40 0.66,-0.27 Q0.46,0.24 -0.66,0.49 Q0.02,0.18 0.22,-0.10 Q-0.05,-0.15 -0.48,-0.19Z" fill="#6ff0a5"/></svg>
<svg class="tok" style="left:1423.9px;top:439.0px;width:27px;height:27px" viewBox="-1 -1 2 2"><circle r="1" fill="#050505"/><path d="M-0.48,-0.19 Q0.15,-0.40 0.66,-0.27 Q0.46,0.24 -0.66,0.49 Q0.02,0.18 0.22,-0.10 Q-0.05,-0.15 -0.48,-0.19Z" fill="#6ff0a5"/></svg>
<div class="card" style="top:553px;height:499px;border-radius:15px 15px 0 0"></div>
<div class="dash" style="top:652.0px"></div>
<svg class="tok" style="left:1678.6px;top:601.8px;width:27px;height:27px" viewBox="-1 -1 2 2"><circle r="1" fill="#050505"/><path d="M-0.48,-0.19 Q0.15,-0.40 0.66,-0.27 Q0.46,0.24 -0.66,0.49 Q0.02,0.18 0.22,-0.10 Q-0.05,-0.15 -0.48,-0.19Z" fill="#6ff0a5"/></svg>
<svg class="eye" style="left:1724px;top:589.5px" width="24" height="24" viewBox="0 0 24 24"><path fill="#3b2a12" d="M12 7c2.76 0 5 2.24 5 5 0 .65-.13 1.26-.36 1.83l2.920 2.920c1.510-1.260 2.700-2.890 3.430-4.750-1.730-4.390-6-7.500-11-7.500-1.400 0-2.740.250-3.980.700l2.160 2.160C10.740 7.130 11.350 7 12 7zM2 4.270l2.280 2.280.460.460C3.080 8.300 1.780 10.020 1 12c1.730 4.390 6 7.500 11 7.500 1.550 0 3.030-.300 4.380-.840l.420.420L19.730 22 21 20.730 3.270 3 2 4.270zM7.530 9.800l1.550 1.550c-.050.210-.080.430-.080.650 0 1.660 1.340 3 3 3 .220 0 .440-.030.650-.080l1.550 1.550c-.670.330-1.410.530-2.200.530-2.760 0-5-2.240-5-5 0-.790.200-1.530.530-2.200z"/></svg>
<div class="dash" style="top:752.0px"></div>
<svg class="tok" style="left:1678.6px;top:701.8px;width:27px;height:27px" viewBox="-1 -1 2 2"><circle r="1" fill="#050505"/><path d="M-0.48,-0.19 Q0.15,-0.40 0.66,-0.27 Q0.46,0.24 -0.66,0.49 Q0.02,0.18 0.22,-0.10 Q-0.05,-0.15 -0.48,-0.19Z" fill="#6ff0a5"/></svg>
<svg class="eye" style="left:1724px;top:689.5px" width="24" height="24" viewBox="0 0 24 24"><path fill="#3b2a12" d="M12 7c2.76 0 5 2.24 5 5 0 .65-.13 1.26-.36 1.83l2.920 2.920c1.510-1.260 2.700-2.890 3.430-4.750-1.730-4.390-6-7.500-11-7.500-1.400 0-2.740.250-3.980.700l2.160 2.160C10.740 7.130 11.350 7 12 7zM2 4.270l2.280 2.280.460.460C3.080 8.300 1.780 10.020 1 12c1.730 4.390 6 7.500 11 7.500 1.550 0 3.030-.300 4.380-.840l.420.420L19.730 22 21 20.730 3.270 3 2 4.270zM7.530 9.800l1.550 1.550c-.050.210-.080.430-.080.650 0 1.660 1.340 3 3 3 .220 0 .440-.030.650-.080l1.550 1.550c-.670.330-1.410.530-2.200.530-2.760 0-5-2.240-5-5 0-.790.200-1.530.530-2.200z"/></svg>
<div class="dash" style="top:852.0px"></div>
<svg class="tok" style="left:1678.6px;top:801.8px;width:27px;height:27px" viewBox="-1 -1 2 2"><circle r="1" fill="#050505"/><path d="M-0.48,-0.19 Q0.15,-0.40 0.66,-0.27 Q0.46,0.24 -0.66,0.49 Q0.02,0.18 0.22,-0.10 Q-0.05,-0.15 -0.48,-0.19Z" fill="#6ff0a5"/></svg>
<svg class="eye" style="left:1724px;top:789.5px" width="24" height="24" viewBox="0 0 24 24"><path fill="#3b2a12" d="M12 7c2.76 0 5 2.24 5 5 0 .65-.13 1.26-.36 1.83l2.920 2.920c1.510-1.260 2.700-2.890 3.430-4.750-1.730-4.390-6-7.500-11-7.500-1.400 0-2.740.250-3.980.700l2.160 2.160C10.740 7.130 11.350 7 12 7zM2 4.270l2.280 2.280.460.460C3.080 8.300 1.780 10.020 1 12c1.730 4.390 6 7.500 11 7.500 1.550 0 3.030-.300 4.380-.840l.420.420L19.730 22 21 20.730 3.270 3 2 4.270zM7.530 9.800l1.550 1.550c-.050.210-.080.430-.080.650 0 1.660 1.340 3 3 3 .220 0 .440-.030.650-.080l1.550 1.550c-.670.330-1.410.530-2.200.530-2.760 0-5-2.240-5-5 0-.790.200-1.530.530-2.200z"/></svg>
<div class="dash" style="top:952.0px"></div>
<svg class="tok" style="left:1678.6px;top:901.8px;width:27px;height:27px" viewBox="-1 -1 2 2"><circle r="1" fill="#050505"/><path d="M-0.48,-0.19 Q0.15,-0.40 0.66,-0.27 Q0.46,0.24 -0.66,0.49 Q0.02,0.18 0.22,-0.10 Q-0.05,-0.15 -0.48,-0.19Z" fill="#6ff0a5"/></svg>
<svg class="eye" style="left:1724px;top:889.5px" width="24" height="24" viewBox="0 0 24 24"><path fill="#3b2a12" d="M12 7c2.76 0 5 2.24 5 5 0 .65-.13 1.26-.36 1.83l2.920 2.920c1.510-1.260 2.700-2.890 3.430-4.750-1.730-4.390-6-7.500-11-7.500-1.400 0-2.740.250-3.980.700l2.160 2.160C10.740 7.130 11.350 7 12 7zM2 4.270l2.280 2.280.460.460C3.080 8.300 1.780 10.020 1 12c1.730 4.390 6 7.500 11 7.500 1.550 0 3.030-.300 4.380-.840l.420.420L19.730 22 21 20.730 3.270 3 2 4.270zM7.530 9.800l1.550 1.550c-.050.210-.080.430-.080.650 0 1.660 1.340 3 3 3 .220 0 .440-.030.650-.080l1.550 1.550c-.670.330-1.410.530-2.200.530-2.760 0-5-2.240-5-5 0-.790.200-1.530.530-2.200z"/></svg>
<div class="dash" style="top:1052.0px"></div>
<svg class="tok" style="left:1678.6px;top:1001.8px;width:27px;height:27px" viewBox="-1 -1 2 2"><circle r="1" fill="#050505"/><path d="M-0.48,-0.19 Q0.15,-0.40 0.66,-0.27 Q0.46,0.24 -0.66,0.49 Q0.02,0.18 0.22,-0.10 Q-0.05,-0.15 -0.48,-0.19Z" fill="#6ff0a5"/></svg>
<svg class="eye" style="left:1724px;top:989.5px" width="24" height="24" viewBox="0 0 24 24"><path fill="#3b2a12" d="M12 7c2.76 0 5 2.24 5 5 0 .65-.13 1.26-.36 1.83l2.920 2.920c1.510-1.260 2.700-2.890 3.430-4.750-1.730-4.390-6-7.500-11-7.500-1.400 0-2.740.250-3.980.700l2.160 2.160C10.740 7.130 11.350 7 12 7zM2 4.270l2.280 2.280.460.460C3.080 8.300 1.780 10.020 1 12c1.730 4.390 6 7.500 11 7.500 1.550 0 3.030-.300 4.380-.840l.420.420L19.730 22 21 20.730 3.270 3 2 4.270zM7.530 9.800l1.550 1.550c-.050.210-.080.430-.080.650 0 1.660 1.340 3 3 3 .220 0 .440-.030.650-.080l1.550 1.550c-.670.330-1.410.530-2.200.530-2.760 0-5-2.240-5-5 0-.790.200-1.530.530-2.200z"/></svg>
<span class="t" id="t0" style="left:808.29px;top:26.00px;font-size:30.7px;font-weight:700;-webkit-text-stroke:0.5px #141416;color:#141416;transform:scaleX(1.0482);transform-origin:0 50%">In/Out Flow</span>
<span class="t" id="t1" style="left:569.60px;top:66.00px;font-size:17.45px;color:#9596ad;transform:scaleX(1.1598);transform-origin:0 50%">The below graph only includes the transactions in and out of this address</span>
<span class="t" id="t2" style="left:1281.82px;top:237.00px;font-size:18.25px;font-weight:700;-webkit-text-stroke:0.5px #141416;color:#141416;transform:scaleX(1.0542);transform-origin:0 50%">In/Out Flow</span>
<span class="t" id="t3" style="left:1304.96px;top:297.00px;font-size:18.3px;color:#5cc78b;transform:scaleX(1.0278);transform-origin:0 50%">In Flow</span>
<span class="t" id="t4" style="left:1307.11px;top:331.00px;font-size:27.3px;font-weight:700;-webkit-text-stroke:0.5px #141416;color:#141416;transform:scaleX(1.0900);transform-origin:0 50%">58.459K</span>
<span class="t" id="t5" style="right:40.01px;top:329.00px;font-size:27.2px;color:#9596ad;transform:scaleX(0.9611);transform-origin:100% 50%">$5.168M</span>
<span class="t" id="t6" style="left:1305.32px;top:405.00px;font-size:18.3px;color:#e25f62;transform:scaleX(1.0987);transform-origin:0 50%">Out flow</span>
<span class="t" id="t7" style="left:1307.48px;top:439.00px;font-size:27.3px;font-weight:700;-webkit-text-stroke:0.5px #141416;color:#141416;transform:scaleX(1.0722);transform-origin:0 50%">30.024K</span>
<span class="t" id="t8" style="right:39.61px;top:438.00px;font-size:27.2px;color:#9596ad;transform:scaleX(1.0377);transform-origin:100% 50%">$2.565M</span>
<span class="t" id="t9" style="left:1281.91px;top:520.00px;font-size:18.25px;font-weight:700;-webkit-text-stroke:0.5px #141416;color:#141416;transform:scaleX(1.0399);transform-origin:0 50%">Node list</span>
<span class="t" id="t10" style="left:1305.11px;top:574.00px;font-size:18.0px;color:#35353d;transform:scaleX(0.9973);transform-origin:0 50%">15 Nov, 2023</span>
<span class="t" id="t11" style="left:1307.03px;top:604.00px;font-size:23.1px;font-weight:700;-webkit-text-stroke:0.5px #141416;color:#141416;transform:scaleX(1.1683);transform-origin:0 50%">$2.565M</span>
<span class="t" id="t12" style="right:82.13px;top:574.00px;font-size:18.3px;color:#e25f62;transform:scaleX(1.0867);transform-origin:100% 50%">Out flow</span>
<span class="t" id="t13" style="right:115.31px;top:607.00px;font-size:20.6px;color:#35353d;transform:scaleX(1.0309);transform-origin:100% 50%">30.024K</span>
<span class="t" id="t14" style="left:1306.00px;top:674.00px;font-size:18.0px;color:#35353d;transform:scaleX(1.0485);transform-origin:0 50%">25 Oct, 2023</span>
<span class="t" id="t15" style="left:1307.03px;top:704.00px;font-size:23.1px;font-weight:700;-webkit-text-stroke:0.5px #141416;color:#141416;transform:scaleX(1.1237);transform-origin:0 50%">$1.446M</span>
<span class="t" id="t16" style="right:82.25px;top:674.00px;font-size:18.3px;color:#5cc78b;transform:scaleX(1.0943);transform-origin:100% 50%">In flow</span>
<span class="t" id="t17" style="right:115.59px;top:707.00px;font-size:20.6px;color:#35353d;transform:scaleX(0.9769);transform-origin:100% 50%">15.654K</span>
<span class="t" id="t18" style="left:1306.00px;top:774.00px;font-size:18.0px;color:#35353d;transform:scaleX(1.0485);transform-origin:0 50%">24 Oct, 2023</span>
<span class="t" id="t19" style="left:1307.06px;top:804.00px;font-size:23.1px;font-weight:700;-webkit-text-stroke:0.5px #141416;color:#141416;transform:scaleX(1.0981);transform-origin:0 50%">$901.940K</span>
<span class="t" id="t20" style="right:82.25px;top:774.00px;font-size:18.3px;color:#5cc78b;transform:scaleX(1.0943);transform-origin:100% 50%">In flow</span>
<span class="t" id="t21" style="right:115.47px;top:807.00px;font-size:20.6px;color:#35353d;transform:scaleX(1.0260);transform-origin:100% 50%">9.825K</span>
<span class="t" id="t22" style="left:1306.00px;top:874.00px;font-size:18.0px;color:#35353d;transform:scaleX(1.0485);transform-origin:0 50%">24 Oct, 2023</span>
<span class="t" id="t23" style="left:1307.05px;top:904.00px;font-size:23.1px;font-weight:700;-webkit-text-stroke:0.5px #141416;color:#141416;transform:scaleX(1.0784);transform-origin:0 50%">$538.913K</span>
<span class="t" id="t24" style="right:82.25px;top:874.00px;font-size:18.3px;color:#5cc78b;transform:scaleX(1.0943);transform-origin:100% 50%">In flow</span>
<span class="t" id="t25" style="right:115.75px;top:907.00px;font-size:20.6px;color:#35353d;transform:scaleX(1.0172);transform-origin:100% 50%">5.823K</span>
<span class="t" id="t26" style="left:1306.00px;top:974.00px;font-size:18.0px;color:#35353d;transform:scaleX(1.0406);transform-origin:0 50%">23 Oct, 2023</span>
<span class="t" id="t27" style="left:1307.05px;top:1004.00px;font-size:23.1px;font-weight:700;-webkit-text-stroke:0.5px #141416;color:#141416;transform:scaleX(1.1100);transform-origin:0 50%">$1.056M</span>
<span class="t" id="t28" style="right:82.25px;top:974.00px;font-size:18.3px;color:#5cc78b;transform:scaleX(1.0943);transform-origin:100% 50%">In flow</span>
<span class="t" id="t29" style="right:114.89px;top:1007.00px;font-size:20.6px;color:#35353d;transform:scaleX(0.9455);transform-origin:100% 50%">12.230K</span>
<span class="t" id="t30" style="left:79.32px;top:1008.00px;font-size:18.25px;color:#35353d;transform:scaleX(1.0965);transform-origin:0 50%">Inflow</span>
<span class="t" id="t31" style="left:387.34px;top:1008.00px;font-size:18.25px;color:#35353d;transform:scaleX(1.0886);transform-origin:0 50%">Outflow</span>
<span class="t" id="t32" style="left:696.31px;top:1008.00px;font-size:18.25px;color:#35353d;transform:scaleX(1.0940);transform-origin:0 50%">Amount</span>
<span class="t" id="t33" style="left:971.71px;top:1006.00px;font-size:18.6px;color:#35353d;transform:scaleX(1.0790);transform-origin:0 50%">Group by:</span>
<span class="t" id="t34" style="left:1063.36px;top:1006.00px;font-size:18.6px;font-weight:700;-webkit-text-stroke:0.5px #141416;color:#141416;transform:scaleX(0.9447);transform-origin:0 50%">1 hour</span>
<span class="t lab" id="t35" style="left:134.43px;top:409.00px;font-size:18.0px;color:#ffffff;transform:scaleX(1.0129);transform-origin:0 50%">9.825K</span>
<span class="t lab" id="t36" style="left:218.19px;top:467.00px;font-size:18.0px;color:#ffffff;transform:scaleX(0.9627);transform-origin:0 50%">15.654K</span>
<span class="t lab" id="t37" style="left:109.75px;top:509.00px;font-size:18.0px;color:#ffffff;transform:scaleX(0.9994);transform-origin:0 50%">5.823K</span>
<div class="clipl"><span class="t lab" id="t38" style="right:1634.88px;top:614.00px;font-size:18.0px;color:#ffffff;transform:scaleX(0.9319);transform-origin:100% 50%">12.230K</span></div>
<span class="t lab" id="t39" style="left:440.66px;top:752.00px;font-size:18.0px;color:#ffffff;transform:scaleX(1.0070);transform-origin:0 50%">9.220K</span>
<span class="t lab" id="t40" style="left:293.21px;top:783.00px;font-size:18.0px;color:#ffffff;transform:scaleX(0.9684);transform-origin:0 50%">5.707K</span>
<span class="t lab" id="t41" style="left:1060.91px;top:547.00px;font-size:18.0px;color:#ffffff;transform:scaleX(1.0115);transform-origin:0 50%">30.024K</span>
</body></html>
